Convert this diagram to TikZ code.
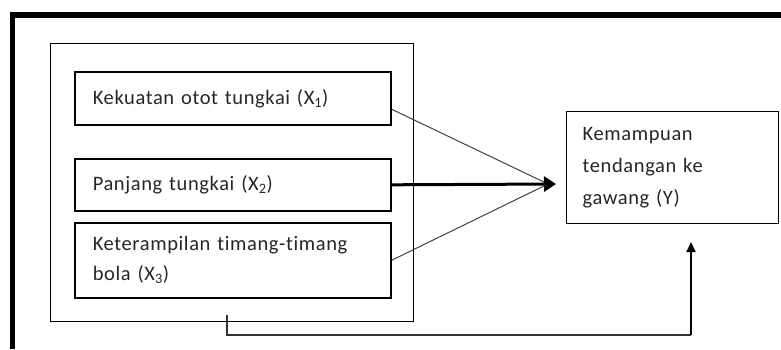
\documentclass[tikz,border=0pt]{standalone}
\usepackage{fontspec}
\setmainfont{Carlito}[LetterSpace=3,Ligatures=NoCommon]
\usetikzlibrary{arrows.meta,calc}
\begin{document}
\begin{tikzpicture}[x=1pt,y=-1pt,
  txt/.style={font=\fontsize{20.5}{32}\selectfont, text=black!85},
  bigbox/.style={draw, line width=1.3pt, anchor=north west, inner sep=0pt},
  varbox/.style={draw, line width=1.6pt, anchor=north west, inner xsep=18pt, inner ysep=0pt, align=left, txt},
  thin/.style={line width=1pt, draw=black!75},
]
\useasboundingbox (0,0) rectangle (781,349);
% outer frame
\draw[line width=5.5pt, line join=miter] (12.5,349) -- (12.5,15) -- (781,15);
% boxes
\node[bigbox, minimum width=363pt, minimum height=278pt] (big) at (50,43) {};
\node[varbox, minimum width=316pt, minimum height=53pt, text width=280pt] (b1) at (74,71) {Kekuatan otot tungkai (X\textsubscript{1})};
\node[varbox, minimum width=316pt, minimum height=52pt, text width=280pt] (b2) at (74,158) {Panjang tungkai (X\textsubscript{2})};
\node[varbox, minimum width=316pt, minimum height=75pt, text width=280pt] (b3) at (74,222) {Keterampilan timang-timang\\[-2pt]bola (X\textsubscript{3})};
\node[varbox, line width=1.3pt, inner xsep=16pt, minimum width=212pt, minimum height=112pt, text width=180pt] (y) at (566,111) {Kemampuan\\tendangan ke\\gawang (Y)};
% connectors
\coordinate (tip) at (556,184);
\coordinate (s) at (227,315);
\coordinate (e) at (691,242);
\draw[thin] ($(b1.south east)!0.3!(b1.north east)$) -- ($(tip)+(-8,0)$);
\draw[thin] (b3.east) -- ($(tip)+(-8,0)$);
\draw[line width=3pt, -{Triangle[length=12pt,width=15pt]}] (b2.east) -- (tip);
\draw[line width=1.3pt, draw=black!80] (s) |- (691,335);
\draw[line width=2pt, -{Triangle[length=10pt,width=9pt]}] (691,335) -- (e);
\end{tikzpicture}
\end{document}
